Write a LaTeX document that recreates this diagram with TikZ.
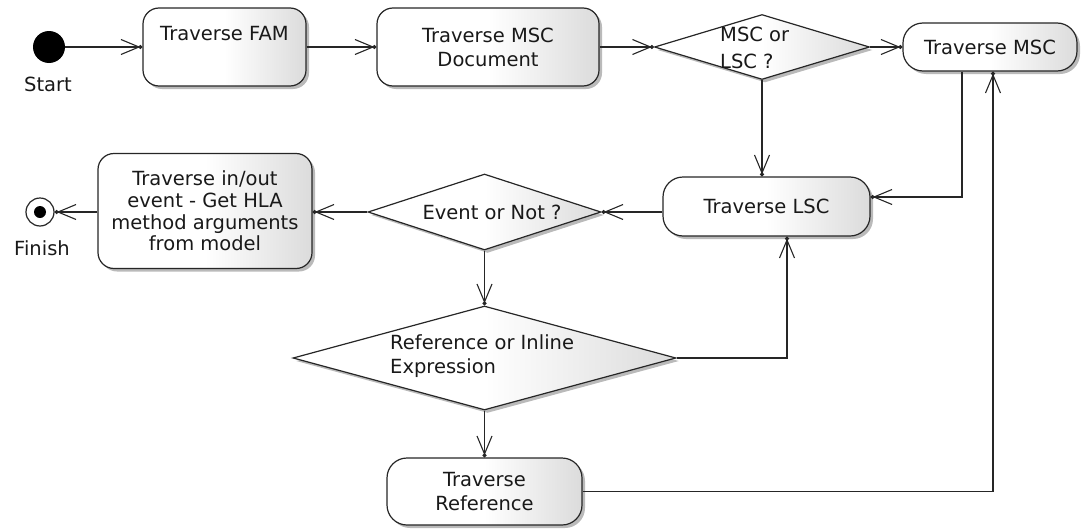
\documentclass[tikz,border=0pt]{standalone}
\usepackage{fontspec}
\setmainfont{DejaVu Sans}
\usetikzlibrary{arrows.meta,shapes.geometric,shadows}

\begin{document}
\begin{tikzpicture}[x=1pt,y=-1pt,
  lbl/.style={font=\fontsize{19.5}{24}\selectfont, inner sep=0pt, text=black!90},
  shade/.style={left color=white, right color=black!14, middle color=white,
    drop shadow={shadow xshift=3pt, shadow yshift=-3pt, fill=black!30, opacity=0.9}},
  act/.style={lbl, shade, draw=black!85, line width=1.2pt, rounded corners=16pt, align=center},
  decision/.style={diamond, shade, draw=black!85, line width=1.2pt, inner sep=0pt},
  flow/.style={draw=black!85, line width=1.2pt,
    -{Straight Barb[length=18pt,width=15pt,line width=1.1pt,sep=-2pt]Circle[length=4pt]}}
]
\useasboundingbox (0,0) rectangle (1081,530);

% initial and final states
\node[circle, fill=black, minimum size=32pt, inner sep=0pt] (start) at (49,47) {};
\node[lbl] (startlbl) at (48,84) {Start};
\node[circle, draw=black!85, line width=1.2pt, fill=white, minimum size=28pt, inner sep=0pt,
  path picture={\fill[black] (path picture bounding box.center) circle (6pt);}] (fin) at (40,212) {};
\node[lbl] (finlbl) at (42,248) {Finish};

% activities
\node[act, minimum width=163pt, minimum height=78pt, text height=15pt, text depth=29pt] (fam) at (224.5,47) {Traverse FAM};
\node[act, minimum width=222pt, minimum height=78pt] (mscdoc) at (488,47) {Traverse MSC\\Document};
\node[act, minimum width=174pt, minimum height=48pt, rounded corners=20pt] (tmsc) at (990,47) {Traverse MSC};
\node[act, minimum width=207pt, minimum height=59pt, rounded corners=20pt] (tlsc) at (766.5,206.5) {Traverse LSC};
\node[act, minimum width=214pt, minimum height=115pt, font=\fontsize{19.5}{21.7}\selectfont] (io) at (205,211) {Traverse in/out\\event - Get HLA\\method arguments\\from model};
\node[act, minimum width=195pt, minimum height=67pt, rounded corners=20pt] (tref) at (484.5,491.5) {Traverse\\Reference};

% decisions
\node[decision, minimum width=215pt, minimum height=65pt] (d1) at (762,47) {};
\node[lbl, align=left, anchor=west, font=\fontsize{19.5}{27}\selectfont] (d1txt) at (720,48) {MSC or\\LSC ?};
\node[decision, minimum width=233pt, minimum height=76pt] (ev) at (484.5,212) {};
\node[lbl] (evtxt) at (492,212) {Event or Not ?};
\node[decision, minimum width=383pt, minimum height=104pt] (ref) at (484.5,358) {};
\node[lbl, align=left, anchor=west] (reftxt) at (390,356) {Reference or Inline\\Expression};

% routing columns
\coordinate (c1) at (962,0);
\coordinate (c2) at (787,0);
\coordinate (c3) at (993,0);

% flows
\draw[flow] (start) -- (fam);
\draw[flow] (fam) -- (mscdoc);
\draw[flow] (mscdoc) -- (d1);
\draw[flow] (d1) -- (tmsc);
\draw[flow] (d1.south) -- (d1.south |- tlsc.north);
\draw[flow] (tmsc.south -| c1) |- ([yshift=9.5pt]tlsc.east);
\draw[flow] (tlsc.west |- ev) -- (ev.east);
\draw[flow] (ev.west) -- (ev.west -| io.east);
\draw[flow] (io.west |- fin) -- (fin);
\draw[flow] (ev.south) -- (ref.north);
\draw[flow] (ref.east) -| (tlsc.south -| c2);
\draw[flow] (ref.south) -- (tref.north);
\draw[flow] (tref.east) -| (tmsc.south -| c3);
\end{tikzpicture}
\end{document}
